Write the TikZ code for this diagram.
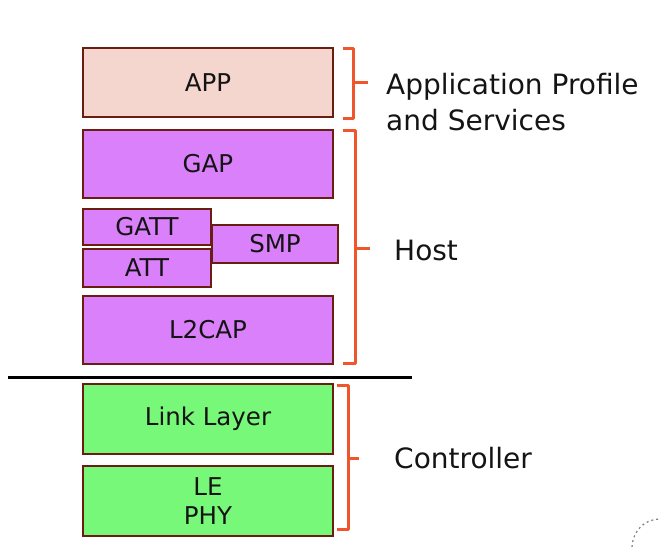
\documentclass[tikz,border=0pt]{standalone}
\usepackage{fontspec}
\setmainfont{DejaVu Sans}
\definecolor{appfill}{HTML}{F4D6CE}
\definecolor{hostfill}{HTML}{DA80FA}
\definecolor{ctrlfill}{HTML}{78F878}
\definecolor{boxline}{HTML}{6B1D12}
\definecolor{bracecol}{HTML}{F0562B}
\definecolor{txt}{HTML}{141414}
\tikzset{
  layer/.style={draw=boxline, line width=2.4pt, inner sep=0pt, text=txt,
    font=\fontsize{24.5}{30}\selectfont, align=center},
  wide/.style={layer, minimum width=250pt},
  bracket/.style={draw=bracecol, line width=3pt, line join=round},
  label/.style={anchor=base west, inner sep=0pt, text=txt,
    font=\fontsize{28}{36}\selectfont}
}
\begin{document}
\begin{tikzpicture}[x=1pt,y=-1pt]
\useasboundingbox (0,0) rectangle (660,547);
% layers
\node[wide, fill=appfill, minimum height=69pt] (app) at (208,82.5) {APP};
\node[wide, fill=hostfill, minimum height=68pt] (gap) at (208,164) {GAP};
\node[layer, fill=hostfill, minimum width=128pt, minimum height=36pt] (gatt) at (147,227) {GATT};
\node[layer, fill=hostfill, minimum width=128pt, minimum height=38pt] (att) at (147,268) {ATT};
\node[layer, fill=hostfill, minimum width=126pt, minimum height=38pt] (smp) at (275,244) {SMP};
\node[wide, fill=hostfill, minimum height=68pt] (l2cap) at (208,330) {L2CAP};
\node[wide, fill=ctrlfill, minimum height=70pt] (ll) at (208,419) {Link Layer};
\node[wide, fill=ctrlfill, minimum height=70pt] (phy) at (208,501) {LE\\[-1pt]PHY};
% separator
\draw[line width=3pt, black] (8,377) -- (412,377);
% brackets
\draw[bracket] (343,48) -- (353,48) -- (353,118) -- (343,118);
\draw[bracket] (353,82) -- (368,82);
\draw[bracket] (343,130) -- (355,130) -- (355,363) -- (343,363);
\draw[bracket] (355,248) -- (370,248);
\draw[bracket] (337,385) -- (348,385) -- (348,529) -- (337,529);
\draw[bracket] (348,458) -- (359,458);
% labels
\node[label] (apl1) at (386,94) {Application Profile};
\node[label] (apl2) at (386,130) {and Services};
\node[label] (host) at (394,260) {Host};
\node[label] (ctrl) at (394,468) {Controller};
% faint dotted arc in corner
\draw[gray, line width=1.2pt, dash pattern=on 2pt off 3pt] (632,547) .. controls (633,530) and (645,519) .. (660,519);
\end{tikzpicture}
\end{document}
